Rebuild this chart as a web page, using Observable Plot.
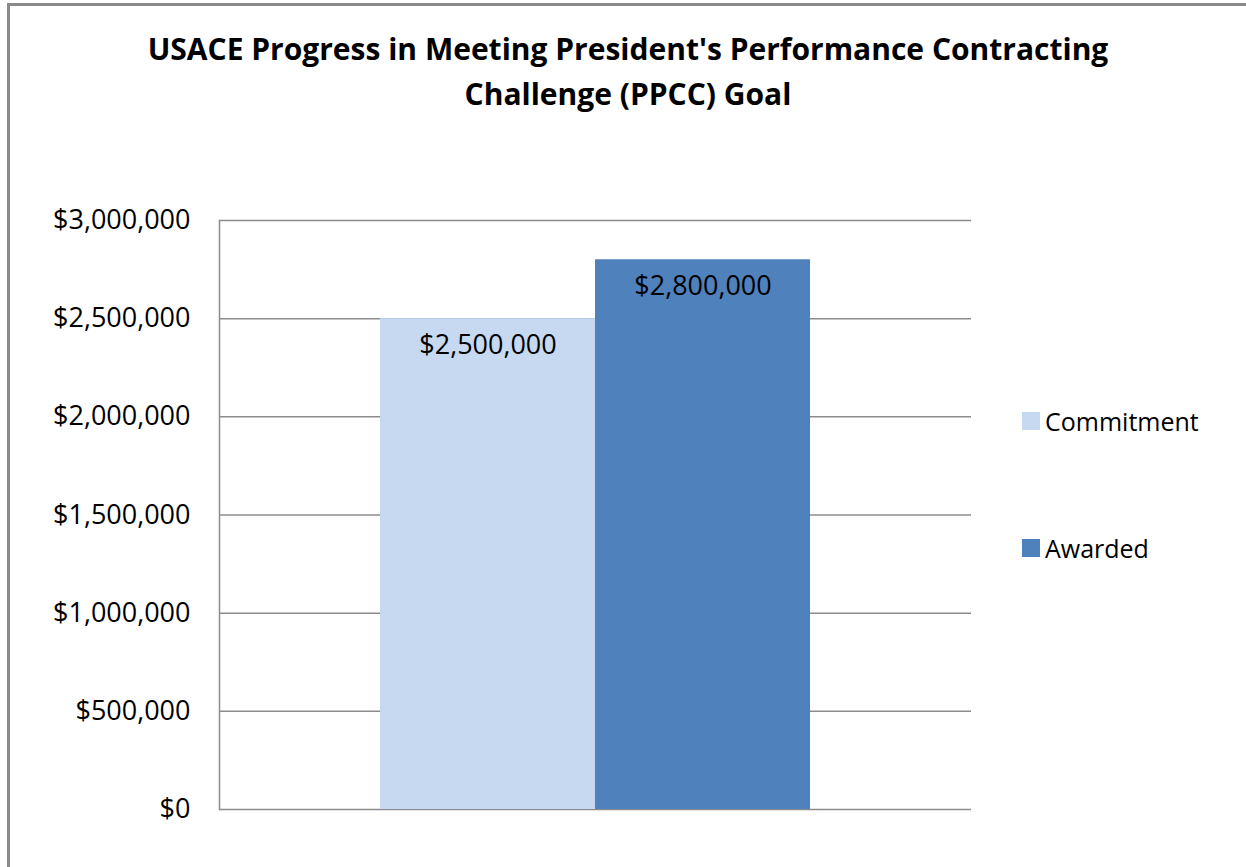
<!DOCTYPE html>
<html><head><meta charset="utf-8">
<script src="https://cdn.jsdelivr.net/npm/d3@7"></script>
<script src="https://cdn.jsdelivr.net/npm/@observablehq/plot@0.6"></script>
<style>
body{margin:0;background:#fff;}
#wrap{position:relative;width:1246px;height:867px;overflow:hidden;font-family:"Open Sans",sans-serif;color:#000;}
#border{position:absolute;left:7px;top:3px;width:1400px;height:1000px;border:3px solid #8a8a8a;box-sizing:border-box;}
#title{position:absolute;left:0;width:1256px;top:26px;text-align:center;font-weight:bold;font-size:30px;line-height:45px;}
#chart{position:absolute;left:0;top:0;}
.leg{position:absolute;left:1022px;height:20px;display:flex;align-items:center;font-size:25px;white-space:nowrap;}
.leg span.sw{display:inline-block;width:18px;height:18px;margin-right:5px;}
</style></head>
<body>
<div id="wrap">
  <div id="border"></div>
  <div id="chart"></div>
  <div id="title"></div>
  <div id="legend"></div>
</div>
<script>
const titleLines = ["USACE Progress in Meeting President's Performance Contracting", "Challenge (PPCC) Goal"];
const series = ["Commitment", "Awarded"];
const values = [2500000, 2800000];
const colors = ["#C6D9F1", "#4F81BD"];
const yTicks = [0, 500000, 1000000, 1500000, 2000000, 2500000, 3000000];

const data = series.map((s, i) => ({series: s, value: values[i]}));
const money = d => "$" + d3.format(",")(d);

document.getElementById("title").innerHTML = titleLines.map(t => `<div>${t.replace(/'/g, "&#39;")}</div>`).join("");

const legendTops = [411, 538];
document.getElementById("legend").innerHTML = series.map((s, i) =>
  `<div class="leg" style="top:${legendTops[i]}px"><span class="sw" style="background:${colors[i]}"></span>${s}</div>`).join("");

const chart = Plot.plot({
  width: 1246,
  height: 867,
  marginLeft: 219,
  marginRight: 275,
  marginTop: 220,
  marginBottom: 58,
  style: {fontFamily: "Open Sans, sans-serif", fontSize: "27px", color: "#000", background: "transparent"},
  x: {domain: series, range: [380, 810], padding: 0, axis: null},
  y: {domain: [0, 3000000], label: null},
  color: {domain: series, range: colors},
  marks: [
    Plot.ruleY(yTicks, {stroke: "#8c8c8c", strokeWidth: 1.5}),
    Plot.frame({anchor: "left", stroke: "#8c8c8c", strokeWidth: 1.5}),
    Plot.barY(data, {x: "series", y: "value", fill: "series"}),
    Plot.text(data, {x: "series", y: "value", text: d => money(d.value), dy: 27, fontSize: 27, fill: "#000"}),
    Plot.axisY(yTicks, {tickFormat: money, tickSize: 0, tickPadding: 29, fontSize: 27, label: null})
  ]
});
document.getElementById("chart").appendChild(chart);
</script>
</body></html>
